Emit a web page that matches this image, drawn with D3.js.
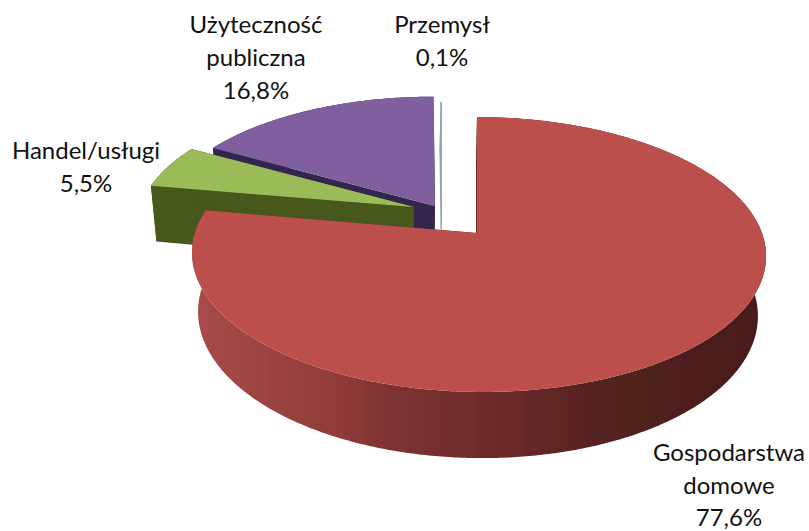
<!DOCTYPE html>
<html>
<head>
<meta charset="utf-8">
<script src="https://cdn.jsdelivr.net/npm/d3@7"></script>
<style>
  html, body { margin: 0; padding: 0; background: #fff; }
  text { font-family: Lato, "Open Sans", sans-serif; font-size: 24px; fill: #111; }
</style>
</head>
<body>
<div id="chart"></div>
<script>
// data, in drawing order of the pie (clockwise from 12 o'clock)
const categories = ["Gospodarstwa domowe", "Handel/usługi", "Użyteczność publiczna", "Przemysł"];
const shares = [77.6, 5.5, 16.8, 0.1];
const shareLabels = ["77,6%", "5,5%", "16,8%", "0,1%"];
const labelLines = [["Gospodarstwa", "domowe"], ["Handel/usługi"], ["Użyteczność", "publiczna"], ["Przemysł"]];

// styles
const topColors = ["#bc4f4c", "#9bbb59", "#7f5f9e", "#93a3b8"];
const wallColors = ["#6b2a28", "#46581f", "#33264f", "#93a3b8"];
const wallStops = [
  [195, "#a84c49"], [340, "#8f3b39"], [400, "#7c3130"], [470, "#702d2c"],
  [560, "#5d2523"], [640, "#4f201e"], [760, "#4a1e1c"]
];

// how far each slice is pulled out: sideways in pixels, backwards in pie radii
const explodeX = [0, -63, -42, -35];
const explodeV = [0, -0.2, -0.208, -0.152];

// label anchors
const labelX = [729, 86, 256, 442];
const labelY = [461, 159, 33, 33];
const lineSteps = [32.5, 33, 33, 33];

const width = 809;
const height = 531;

// perspective of the disc: v runs towards the viewer, u to the right
const perspV = -0.156;
const perspU = -0.007;
const topPlane = { cx: 477, ax: 283.5, ay: 97.8, by: 233 };
const bottomPlane = { cx: 476, ax: 276.5, ay: 95.2, by: 291.4 };

function project(u, v, dx, plane) {
  const w = 1 + perspV * v + perspU * u;
  return [plane.cx + dx + (plane.ax * u) / w, (plane.by + plane.ay * v) / w];
}

const svg = d3
  .select("#chart")
  .append("svg")
  .attr("width", width)
  .attr("height", height);

const defs = svg.append("defs");

// the reference is a slightly soft image
defs
  .append("filter")
  .attr("id", "soft")
  .append("feGaussianBlur")
  .attr("stdDeviation", 0.45);

const grad = defs
  .append("linearGradient")
  .attr("id", "redWall")
  .attr("gradientUnits", "userSpaceOnUse")
  .attr("x1", wallStops[0][0])
  .attr("x2", wallStops[wallStops.length - 1][0])
  .attr("y1", 0)
  .attr("y2", 0);

const stopScale = d3
  .scaleLinear()
  .domain([wallStops[0][0], wallStops[wallStops.length - 1][0]])
  .range([0, 1]);

grad
  .selectAll("stop")
  .data(wallStops)
  .enter()
  .append("stop")
  .attr("offset", (d) => stopScale(d[0]))
  .attr("stop-color", (d) => d[1]);

const pie = d3.pie().sort(null).value((d) => d);
const slices = pie(shares);
const line = d3.line();
const marks = svg.append("g").attr("filter", "url(#soft)");

// rim of a slice as unit disc coordinates
function rim(d, i) {
  const n = Math.max(2, Math.ceil((d.endAngle - d.startAngle) / 0.01));
  return d3.range(n + 1).map(function (k) {
    const a = d.startAngle + ((d.endAngle - d.startAngle) * k) / n;
    return [Math.sin(a), -Math.cos(a) + explodeV[i]];
  });
}

// back slices first, the big red one last
d3.range(slices.length - 1, -1, -1).forEach(function (i) {
  const d = slices[i];
  const dx = explodeX[i];
  const pts = rim(d, i);
  const tip = [0, explodeV[i]];
  const first = pts[0];
  const last = pts[pts.length - 1];
  const g = marks.append("g").attr("class", "slice");

  // outer wall
  const wallPts = pts
    .map((p) => project(p[0], p[1], dx, topPlane))
    .concat(pts.slice().reverse().map((p) => project(p[0], p[1], dx, bottomPlane)));
  g.append("path")
    .attr("d", line(wallPts) + "Z")
    .attr("fill", i === 0 ? "url(#redWall)" : wallColors[i]);

  // the two cut faces
  [first, last].forEach(function (p) {
    const face = [
      project(p[0], p[1], dx, topPlane),
      project(tip[0], tip[1], dx, topPlane),
      project(tip[0], tip[1], dx, bottomPlane),
      project(p[0], p[1], dx, bottomPlane)
    ];
    g.append("path").attr("d", line(face) + "Z").attr("fill", wallColors[i]);
  });

  // top face
  const topPts = [project(tip[0], tip[1], dx, topPlane)].concat(
    pts.map((p) => project(p[0], p[1], dx, topPlane))
  );
  g.append("path").attr("d", line(topPts) + "Z").attr("fill", topColors[i]);
});

// labels
categories.forEach(function (c, i) {
  const t = svg
    .append("text")
    .attr("text-anchor", "middle")
    .attr("x", labelX[i])
    .attr("y", labelY[i]);
  labelLines[i].concat([shareLabels[i]]).forEach(function (s, k) {
    t.append("tspan")
      .attr("x", labelX[i])
      .attr("dy", k === 0 ? 0 : lineSteps[i])
      .text(s);
  });
});
</script>
</body>
</html>
